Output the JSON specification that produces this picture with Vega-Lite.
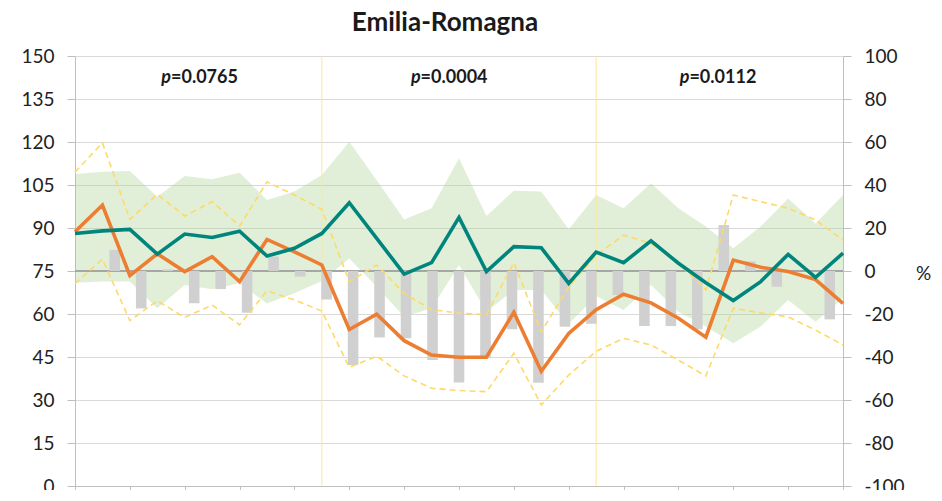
{
  "$schema": "https://vega.github.io/schema/vega-lite/v6.json",
  "width": 768,
  "height": 430,
  "autosize": {"type": "none"},
  "padding": {"left": 75, "top": 56, "right": 99, "bottom": 4},
  "background": "white",
  "config": {
    "view": {"stroke": null},
    "font": "Lato",
    "axis": {"labelFont": "Lato", "labelFontSize": 19, "labelColor": "#222222", "domainColor": "#bfbfbf", "tickColor": "#bfbfbf", "gridColor": "#d9d9d9"}
  },
  "title": {"text": "Emilia-Romagna", "font": "Lato", "fontSize": 26, "fontWeight": "bold", "color": "#1a1a1a", "anchor": "middle", "dx": -14, "offset": 11},
  "datasets": {
    "series": [
      {"i": 0, "t": 88.1, "o": 88.7, "u": 109.5, "l": 70.6, "bh": 108.8, "bl": 70.9},
      {"i": 1, "t": 89.0, "o": 98.0, "u": 119.7, "l": 79.1, "bh": 109.6, "bl": 71.3},
      {"i": 2, "t": 89.5, "o": 73.4, "u": 93.0, "l": 57.7, "bh": 109.9, "bl": 71.3},
      {"i": 3, "t": 80.9, "o": 81.0, "u": 101.7, "l": 64.6, "bh": 100.9, "bl": 62.0},
      {"i": 4, "t": 87.9, "o": 74.8, "u": 94.2, "l": 58.8, "bh": 108.1, "bl": 70.1},
      {"i": 5, "t": 86.7, "o": 80.0, "u": 99.2, "l": 63.1, "bh": 107.0, "bl": 68.6},
      {"i": 6, "t": 88.9, "o": 71.3, "u": 90.7, "l": 56.2, "bh": 109.3, "bl": 70.7},
      {"i": 7, "t": 80.2, "o": 86.0, "u": 106.1, "l": 68.1, "bh": 99.8, "bl": 63.7},
      {"i": 8, "t": 82.9, "o": 81.7, "u": 101.5, "l": 64.9, "bh": 102.7, "bl": 67.2},
      {"i": 9, "t": 88.1, "o": 77.1, "u": 96.5, "l": 61.0, "bh": 108.5, "bl": 71.5},
      {"i": 10, "t": 98.8, "o": 54.6, "u": 71.3, "l": 41.4, "bh": 120.1, "bl": 79.4},
      {"i": 11, "t": 86.4, "o": 59.9, "u": 77.1, "l": 45.3, "bh": 106.7, "bl": 69.5},
      {"i": 12, "t": 73.9, "o": 50.7, "u": 67.2, "l": 38.4, "bh": 93.0, "bl": 59.0},
      {"i": 13, "t": 77.9, "o": 45.7, "u": 61.5, "l": 34.1, "bh": 96.9, "bl": 62.0},
      {"i": 14, "t": 93.7, "o": 44.9, "u": 60.3, "l": 33.3, "bh": 114.3, "bl": 77.1},
      {"i": 15, "t": 74.8, "o": 44.9, "u": 59.8, "l": 32.9, "bh": 94.2, "bl": 60.8},
      {"i": 16, "t": 83.5, "o": 60.6, "u": 77.9, "l": 46.3, "bh": 103.0, "bl": 68.4},
      {"i": 17, "t": 83.1, "o": 40.0, "u": 53.8, "l": 28.3, "bh": 102.7, "bl": 68.4},
      {"i": 18, "t": 70.7, "o": 53.2, "u": 69.5, "l": 38.7, "bh": 89.6, "bl": 56.5},
      {"i": 19, "t": 81.6, "o": 61.5, "u": 80.5, "l": 47.0, "bh": 101.5, "bl": 66.3},
      {"i": 20, "t": 77.9, "o": 66.9, "u": 87.5, "l": 51.5, "bh": 96.9, "bl": 61.4},
      {"i": 21, "t": 85.5, "o": 63.9, "u": 84.6, "l": 49.2, "bh": 105.6, "bl": 70.1},
      {"i": 22, "t": 77.7, "o": 58.5, "u": 77.7, "l": 43.9, "bh": 96.9, "bl": 60.8},
      {"i": 23, "t": 70.9, "o": 51.9, "u": 68.4, "l": 38.4, "bh": 90.5, "bl": 55.6},
      {"i": 24, "t": 64.7, "o": 78.8, "u": 101.5, "l": 62.0, "bh": 82.9, "bl": 49.8},
      {"i": 25, "t": 71.3, "o": 76.3, "u": 99.2, "l": 60.4, "bh": 90.5, "bl": 55.6},
      {"i": 26, "t": 80.8, "o": 74.8, "u": 96.9, "l": 59.0, "bh": 100.3, "bl": 64.9},
      {"i": 27, "t": 72.8, "o": 72.0, "u": 92.8, "l": 54.4, "bh": 91.6, "bl": 57.3},
      {"i": 28, "t": 81.2, "o": 63.7, "u": 85.8, "l": 49.2, "bh": 101.5, "bl": 65.5}
    ],
    "bars": [
      {"j": 0, "pct": 0}, {"j": 1, "pct": 9.8}, {"j": 2, "pct": -17.4}, {"j": 3, "pct": 0.8},
      {"j": 4, "pct": -15.0}, {"j": 5, "pct": -8.4}, {"j": 6, "pct": -19.4}, {"j": 7, "pct": 6.7},
      {"j": 8, "pct": -2.6}, {"j": 9, "pct": -13.2}, {"j": 10, "pct": -43.7}, {"j": 11, "pct": -30.9},
      {"j": 12, "pct": -31.3}, {"j": 13, "pct": -41.4}, {"j": 14, "pct": -51.9}, {"j": 15, "pct": -40.6},
      {"j": 16, "pct": -27.1}, {"j": 17, "pct": -52.0}, {"j": 18, "pct": -25.9}, {"j": 19, "pct": -24.5},
      {"j": 20, "pct": -11.2}, {"j": 21, "pct": -25.6}, {"j": 22, "pct": -25.6}, {"j": 23, "pct": -27.1},
      {"j": 24, "pct": 21.4}, {"j": 25, "pct": 4.5}, {"j": 26, "pct": -7.3}, {"j": 27, "pct": 0},
      {"j": 28, "pct": -22.5}
    ],
    "breaks": [{"i": 9}, {"i": 19}],
    "plabels": [
      {"px": 3.5, "py": 142.3, "eq": "=0.0765"},
      {"px": 12.6, "py": 142.3, "eq": "=0.0004"},
      {"px": 22.4, "py": 142.3, "eq": "=0.0112"}
    ]
  },
  "layer": [
    {
      "layer": [
        {
          "data": {"name": "series"},
          "mark": {"type": "area", "color": "#A9D18E", "opacity": 0.35},
          "encoding": {
            "x": {"field": "i", "type": "quantitative", "scale": {"domain": [0, 28], "nice": false, "zero": false},
                  "axis": {"orient": "bottom", "values": [0,1,2,3,4,5,6,7,8,9,10,11,12,13,14,15,16,17,18,19,20,21,22,23,24,25,26,27,28], "labels": false, "ticks": true, "tickSize": 5, "grid": false, "title": null}},
            "y": {"field": "bh", "type": "quantitative", "scale": {"domain": [0, 150], "nice": false},
                  "axis": {"orient": "left", "values": [0,15,30,45,60,75,90,105,120,135,150], "grid": true, "tickSize": 8, "labelPadding": 13, "title": null}},
            "y2": {"field": "bl"}
          }
        },
        {
          "data": {"name": "breaks"},
          "mark": {"type": "rule", "color": "#FFE699", "strokeWidth": 1},
          "encoding": {"x": {"field": "i", "type": "quantitative"}}
        }
      ]
    },
    {
      "layer": [
        {
          "data": {"name": "bars"},
          "mark": {"type": "rule", "color": "#a6a6a6", "strokeWidth": 1.5},
          "encoding": {"y": {"datum": 0, "type": "quantitative"}}
        },
        {
          "data": {"name": "bars"},
          "mark": {"type": "bar", "color": "#d0d0d0"},
          "encoding": {
            "x": {"field": "j", "type": "ordinal", "scale": {"paddingInner": 0.6, "paddingOuter": 0.3}, "axis": null},
            "y": {"field": "pct", "type": "quantitative", "scale": {"domain": [-100, 100], "nice": false},
                  "axis": {"orient": "right", "values": [-100,-80,-60,-40,-20,0,20,40,60,80,100], "grid": false, "tickSize": 8, "labelPadding": 13, "labelExpr": "toString(datum.value)",
                           "title": "%", "titleAngle": 0, "titleFont": "Lato", "titleFontSize": 19, "titleFontWeight": "normal", "titleColor": "#222222", "titleX": 80, "titleY": 217, "titleAlign": "center", "titleBaseline": "middle"}},
            "y2": {"datum": 0}
          }
        }
      ]
    },
    {
      "layer": [
        {
          "data": {"name": "series"},
          "mark": {"type": "line", "color": "#FFD966", "strokeWidth": 1.6, "strokeDash": [6, 4]},
          "encoding": {
            "x": {"field": "i", "type": "quantitative", "scale": {"domain": [0, 28], "nice": false, "zero": false}, "axis": null},
            "y": {"field": "u", "type": "quantitative", "scale": {"domain": [0, 150], "nice": false}, "axis": null}
          }
        },
        {
          "data": {"name": "series"},
          "mark": {"type": "line", "color": "#FFD966", "strokeWidth": 1.6, "strokeDash": [6, 4]},
          "encoding": {
            "x": {"field": "i", "type": "quantitative"},
            "y": {"field": "l", "type": "quantitative"}
          }
        },
        {
          "data": {"name": "series"},
          "mark": {"type": "line", "color": "#ED7D31", "strokeWidth": 3.6},
          "encoding": {
            "x": {"field": "i", "type": "quantitative"},
            "y": {"field": "o", "type": "quantitative"}
          }
        },
        {
          "data": {"name": "series"},
          "mark": {"type": "line", "color": "#00857D", "strokeWidth": 3.6},
          "encoding": {
            "x": {"field": "i", "type": "quantitative"},
            "y": {"field": "t", "type": "quantitative"}
          }
        },
        {
          "data": {"name": "plabels"},
          "mark": {"type": "text", "text": "p", "font": "Lato", "fontSize": 18, "fontWeight": "bold", "fontStyle": "italic", "align": "right", "baseline": "middle", "color": "#1a1a1a"},
          "encoding": {
            "x": {"field": "px", "type": "quantitative"},
            "y": {"field": "py", "type": "quantitative"}
          }
        },
        {
          "data": {"name": "plabels"},
          "mark": {"type": "text", "font": "Lato", "fontSize": 18, "fontWeight": "bold", "align": "left", "baseline": "middle", "color": "#1a1a1a"},
          "encoding": {
            "x": {"field": "px", "type": "quantitative"},
            "y": {"field": "py", "type": "quantitative"},
            "text": {"field": "eq"}
          }
        }
      ]
    }
  ],
  "resolve": {"scale": {"x": "independent", "y": "independent"}, "axis": {"x": "independent", "y": "independent"}}
}
